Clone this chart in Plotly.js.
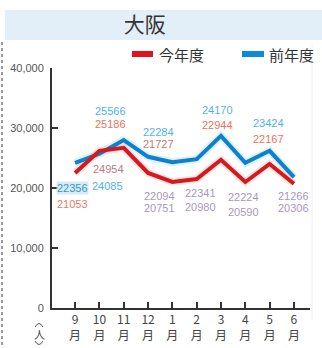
<!DOCTYPE html>
<html><head><meta charset="utf-8">
<script src="https://cdn.plot.ly/plotly-3.0.1.min.js"></script>
<style>html,body{margin:0;padding:0;background:#fff;}#chart{width:322px;height:348px;}</style>
</head><body><div id="chart"></div>
<script>
// ---- data ----
const months = ['9','10','11','12','1','2','3','4','5','6'];
const curYear = [22500, 26200, 26700, 22500, 21000, 21500, 24700, 21000, 24000, 20700]; // 今年度 (drawn line)
const prevYear = [24200, 25700, 28000, 25200, 24300, 24800, 28700, 24200, 26200, 21800]; // 前年度 (drawn line)
const curLabels = ['21053','24954','25186','21727','20751','20980','22944','20590','22167','20306'];
const prevLabels = ['22356','24085','25566','22284','22094','22341','24170','22224','23424','21266'];
const yTicks = [0, 10000, 20000, 30000, 40000];
const yTickText = ['0','10,000','20,000','30,000','40,000'];

// ---- layout helpers (pixel -> paper) ----
const L = 52, R = 12, T = 68, B = 40, W = 322, H = 348;
const pw = W - L - R, ph = H - T - B;
const px = x => (x - L) / pw;
const py = y => (H - B - y) / ph;

const cats = months.map(m => m + '<br>月');
const RED = '#d21a1f', BLUE = '#0a82cc';

const traces = [
  {x: cats, y: prevYear, mode: 'lines', line: {color: 'rgba(120,190,235,0.22)', width: 8}, hoverinfo: 'skip', showlegend: false},
  {x: cats, y: curYear, mode: 'lines', line: {color: 'rgba(240,140,140,0.22)', width: 8}, hoverinfo: 'skip', showlegend: false},
  {x: cats, y: prevYear, mode: 'lines', name: '前年度', line: {color: BLUE, width: 4}, showlegend: false},
  {x: cats, y: curYear, mode: 'lines', name: '今年度', line: {color: RED, width: 4}, showlegend: false}
];

// label pixel positions (style, not data)
const prevPos = [[72,188],[107,186],[110,111],[158,132],[159,196],[200,193],[217,110],[243,197],[268,123],[293,196]];
const curPos  = [[72,204],[108,169],[110,124],[158,144],[159,208],[200,207],[217,125],[243,212],[268,139],[293,208]];
const LB = '#4fb3e8', LR = '#f07060', GP = '#a898bc';
const prevCol = ['#3a98c6', LB, LB, LB, GP, GP, LB, GP, LB, GP];
const curCol  = ['#f07868', '#b87a8a', LR, '#c0806c', GP, GP, LR, GP, LR, GP];

const labelFont = 'Liberation Sans, Arial, sans-serif';
const annotations = [];
prevLabels.forEach((t, i) => annotations.push({
  xref: 'paper', yref: 'paper', x: px(prevPos[i][0]), y: py(prevPos[i][1]), text: t,
  showarrow: false, xanchor: 'center', yanchor: 'middle',
  font: {family: labelFont, size: 11, color: prevCol[i]},
  bgcolor: i === 0 ? 'rgba(205,230,245,0.8)' : 'rgba(0,0,0,0)', borderpad: 0
}));
curLabels.forEach((t, i) => annotations.push({
  xref: 'paper', yref: 'paper', x: px(curPos[i][0]), y: py(curPos[i][1]), text: t,
  showarrow: false, xanchor: 'center', yanchor: 'middle',
  font: {family: labelFont, size: 11, color: curCol[i]}
}));
// legend text
annotations.push({xref:'paper', yref:'paper', x: px(157), y: py(54), text: '今年度', showarrow:false, xanchor:'left', yanchor:'middle', font:{family:'Noto Sans CJK JP', size:15, color:'#333'}});
annotations.push({xref:'paper', yref:'paper', x: px(267), y: py(54), text: '前年度', showarrow:false, xanchor:'left', yanchor:'middle', font:{family:'Noto Sans CJK JP', size:15, color:'#333'}});
// unit 人 (vertical parentheses drawn as shapes)
annotations.push({xref:'paper', yref:'paper', x: px(39), y: py(334), text: '人', showarrow:false, xanchor:'center', yanchor:'middle',
  font:{family:'Noto Sans CJK JP', size:11, color:'#444'}, borderpad: 0});

const arc = (x0, x1, yb, yc) => `M ${px(x0)},${py(yb)} Q ${px((x0+x1)/2)},${py(yc)} ${px(x1)},${py(yb)}`;
const shapes = [
  {type:'rect', xref:'paper', yref:'paper', x0: px(5), x1: px(322), y0: py(40), y1: py(10), fillcolor:'#e2eef8', line:{width:0}, layer:'below'},
  {type:'line', xref:'paper', yref:'paper', x0: px(2), x1: px(2), y0: py(42), y1: py(348), line:{color:'#9a9a9a', width:2, dash:'dot'}},
  {type:'line', xref:'paper', yref:'paper', x0: px(312), x1: px(312), y0: py(45), y1: py(320), line:{color:'#eeeeee', width:1}},
  {type:'line', xref:'paper', yref:'paper', x0: px(132), x1: px(153), y0: py(54), y1: py(54), line:{color:'#e0141a', width:6}},
  {type:'line', xref:'paper', yref:'paper', x0: px(242), x1: px(264), y0: py(54), y1: py(54), line:{color:'#0a8ad8', width:6}},
  {type:'path', xref:'paper', yref:'paper', path: arc(35, 43, 327, 320), line:{color:'#555', width:1}},
  {type:'path', xref:'paper', yref:'paper', path: arc(35, 43, 341, 348), line:{color:'#555', width:1}}
];

const layout = {
  width: W, height: H,
  margin: {l: L, r: R, t: T, b: B, pad: 0},
  paper_bgcolor: '#fff', plot_bgcolor: '#fff',
  showlegend: false,
  title: {text: '大阪', x: px(168), xanchor: 'center', y: 1 - 25 / H, yanchor: 'middle', yref: 'container', font: {family: 'Noto Sans CJK JP', size: 21, color: '#333'}},
  xaxis: {type: 'category', range: [-0.95, 9.66], showgrid: false, zeroline: false,
    showline: true, linecolor: '#333', linewidth: 2, ticks: 'inside', ticklen: 6, tickwidth: 2, tickcolor: '#333',
    tickfont: {family: 'Noto Sans CJK JP, sans-serif', size: 12, color: '#444'}, fixedrange: true},
  yaxis: {range: [0, 40000], tickvals: yTicks, ticktext: yTickText, showgrid: false, zeroline: false,
    showline: true, linecolor: '#333', linewidth: 2, ticks: 'inside', ticklen: 6, tickwidth: 2, tickcolor: '#333',
    ticklabelstandoff: 4,
    tickfont: {family: labelFont, size: 11, color: '#555'}, fixedrange: true},
  annotations, shapes
};
Plotly.newPlot('chart', traces, layout, {displayModeBar: false, staticPlot: true});
</script></body></html>
